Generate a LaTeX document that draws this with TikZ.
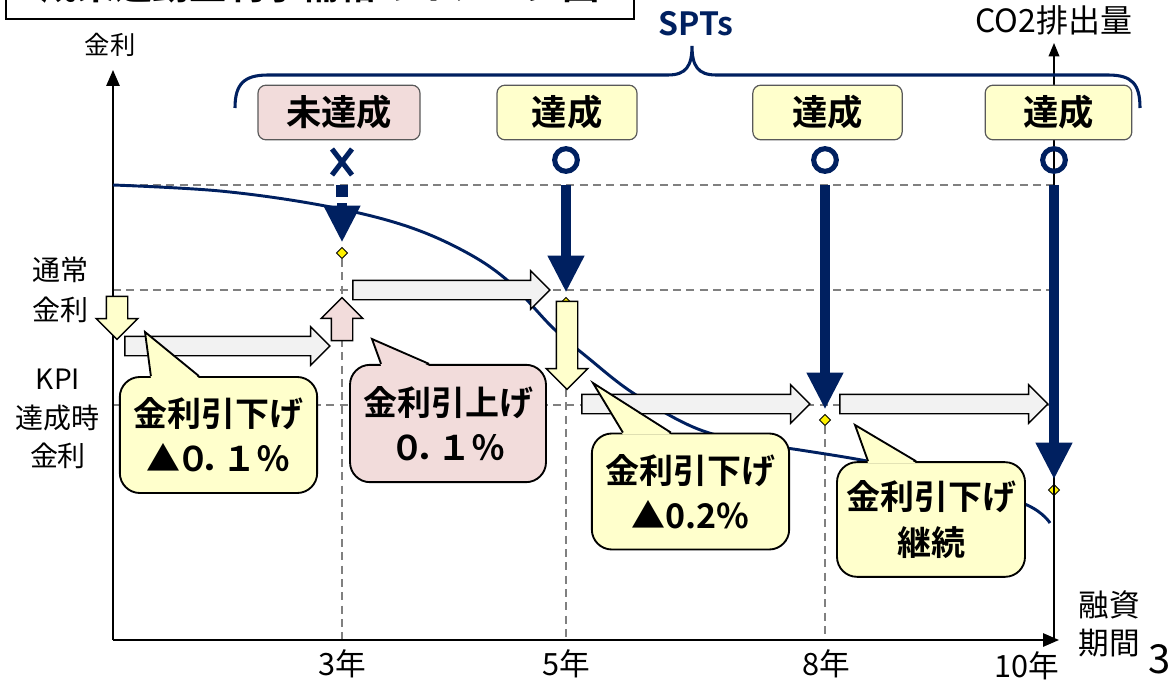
\documentclass[tikz,border=0pt]{standalone}
\usepackage{fontspec}
\setmainfont{Noto Sans CJK JP}[BoldFont={* Bold}]
\usetikzlibrary{shapes.geometric,shapes.arrows,arrows.meta,positioning}

\definecolor{navy}{HTML}{002060}
\definecolor{lemon}{HTML}{FFFFCC}
\definecolor{rose}{HTML}{F2DCDB}
\definecolor{pale}{HTML}{F2F2F2}
\definecolor{guidegray}{HTML}{808080}

\begin{document}
\begin{tikzpicture}[
    x=0.75pt, y=-0.75pt,
    guide/.style={draw=guidegray, line width=1.3pt, dash pattern=on 6pt off 4pt},
    axisline/.style={-{Triangle[width=10pt,length=12pt]}, line width=1.4pt},
    statbox/.style={rectangle, draw=black!65, line width=0.9pt, rounded corners=6pt, minimum height=41pt, font=\fontsize{26.5pt}{30pt}\selectfont\bfseries},
    bubble/.style={rectangle, draw, line width=1.4pt, rounded corners=15pt, align=center, minimum width=148pt, minimum height=87pt, font=\fontsize{25.5pt}{34pt}\selectfont\bfseries},
    ptr/.style={line width=1.4pt, line join=miter},
    sptarrow/.style={draw=navy, line width=7.5pt, -{Triangle[width=28pt,length=27pt,line width=0pt]}, shorten >=4pt},
    okmark/.style={circle, draw=navy, line width=3.8pt, minimum size=17pt, inner sep=0pt},
    dot/.style={diamond, draw, fill=yellow, line width=0.6pt, minimum size=8.5pt, inner sep=0pt},
    blockarrow/.style={single arrow, draw, line width=1.1pt, inner xsep=0pt, inner ysep=6.75pt, single arrow head extend=7.1pt},
    uparrow/.style={blockarrow, inner ysep=7.5pt, single arrow head extend=7.5pt},
    lbl/.style={font=\fontsize{23pt}{28pt}\selectfont, align=center}
]
\useasboundingbox (0,0) rectangle (1171,681);

% Title (cut off at the top)
\node[draw, line width=1.5pt, minimum width=471pt, minimum height=50pt, anchor=south west,
      font=\fontsize{28pt}{30pt}\selectfont\bfseries] (title) at (5,20) {成果連動型利子補給のイメージ図};

% Axes and guide lines
\coordinate (o) at (113,640);
\coordinate (ytop) at (113,70);
\coordinate (xend) at (1059,640);
\coordinate (ctop) at (1054,43);

\draw[guide] (113,185) -- (1054,185);
\draw[guide] (113,290) -- (1054,290);
\draw[guide] (113,405) -- (1054,405);

\node[dot] (d3) at (342,253) {};
\node[dot] (d5) at (566,303) {};
\node[dot] (d8) at (825,420) {};
\node[dot] (d10) at (1054,490) {};

\draw[guide] (d3.south) -- (d3 |- o);
\draw[guide] (d5.south) -- (d5 |- o);
\draw[guide] (d8.south) -- (d8 |- o);

\draw[axisline] (o) -- (ytop);
\draw[axisline] (o) -- (xend);
\draw[-{Triangle[width=8pt,length=10pt]}, line width=1pt] (d10 |- o) -- (ctop);

% CO2 curve
\draw[navy, line width=2.2pt] plot[smooth, tension=0.6] coordinates {
    (113,185) (220,191) (320,205) (400,224) (460,249) (507,280) (553,328)
    (587,357) (633,393) (693,427) (747,442) (800,450) (867,461) (950,478)
    (1027,505) (1050,523)};

% SPTs brace
\draw[navy, line width=2.3pt] (235,108) .. controls (235,84) and (244,75) .. (268,75)
    -- (668,75) .. controls (686,75) and (692,66) .. (692,46)
    .. controls (692,66) and (698,75) .. (716,75)
    -- (1108,75) .. controls (1132,75) and (1140,84) .. (1140,108);
\node[font=\fontsize{24pt}{26pt}\selectfont\bfseries, text=navy] (spts) at (696,24) {SPTs};

% Judgement boxes
\node[statbox, fill=rose, minimum width=121.5pt] (ng) at (339,112.5) {未達成};
\node[statbox, fill=lemon, minimum width=105pt] (okA) at (567,112.5) {達成};
\node[statbox, fill=lemon, minimum width=112pt] (okB) at (827.5,112.5) {達成};
\node[statbox, fill=lemon, minimum width=110pt] (okC) at (1058.5,112.5) {達成};

\draw[navy, line width=3.8pt] (332,149) -- (352,175) (352,149) -- (332,175);
\node[okmark] (oA) at (566,160) {};
\node[okmark] (oB) at (825,160) {};
\node[okmark] (oC) at (1054,160) {};

% Navy arrows
\coordinate (s5) at (566,185);
\coordinate (s8) at (825,185);
\coordinate (s10) at (1054,185);
\node[fill=navy, minimum size=9pt, inner sep=0pt] (sq3) at (342,191) {};
\draw[sptarrow] ([yshift=-4.5pt]sq3.south) -- (d3.north);
\draw[sptarrow] (s5) -- (d5.north);
\draw[sptarrow] (s8) -- (d8.north);
\draw[sptarrow] (s10) -- (d10.north);

% Block arrows
\node[blockarrow, fill=pale, minimum height=153.75pt] (ga1) at (222.5,346) {};
\node[blockarrow, fill=pale, minimum height=147.75pt] (ga2) at (446.5,290) {};
\node[blockarrow, fill=pale, minimum height=171pt] (ga3) at (691,404) {};
\node[blockarrow, fill=pale, minimum height=156pt] (ga4) at (939,404) {};
\node[uparrow, fill=lemon, rotate=-90, minimum height=32.25pt] (ya1) at (117,312.5) {};
\node[uparrow, fill=rose, rotate=90, minimum height=32.25pt] (pa1) at (342,324.5) {};
\node[uparrow, fill=lemon, rotate=-90, minimum height=66pt] (ya2) at (567,340) {};

% Callouts
\node[bubble, fill=lemon] (cA) at (218.5,435) {金利引下げ\\▲\kern-3pt０\kern-7pt．\kern-9pt１％};
\node[bubble, fill=rose, minimum width=147pt, minimum height=88pt] (cB) at (448,423.5) {金利引上げ\\０\kern-7pt．\kern-9pt１％};
\node[bubble, fill=lemon] (cC) at (690.5,491.5) {金利引下げ\\▲0.2\%};
\node[bubble, fill=lemon, minimum width=141pt, minimum height=86pt] (cD) at (931,519.5) {金利引下げ\\継続};

\coordinate (tA) at (145,332);
\coordinate (tB) at (372,339);
\coordinate (tC) at (593,383);
\coordinate (tD) at (855,425);

\fill[lemon] ([xshift=24pt,yshift=-1.5pt]cA.north west) -- (tA) -- ([xshift=60pt,yshift=-1.5pt]cA.north west) -- cycle;
\draw[ptr] ([xshift=24pt]cA.north west) -- (tA) -- ([xshift=60pt]cA.north west);
\fill[rose] ([xshift=24pt,yshift=-1.5pt]cB.north west) -- (tB) -- ([xshift=60pt,yshift=-1.5pt]cB.north west) -- cycle;
\draw[ptr] ([xshift=24pt]cB.north west) -- (tB) -- ([xshift=60pt]cB.north west);
\fill[lemon] ([xshift=24pt,yshift=-1.5pt]cC.north west) -- (tC) -- ([xshift=60pt,yshift=-1.5pt]cC.north west) -- cycle;
\draw[ptr] ([xshift=24pt]cC.north west) -- (tC) -- ([xshift=60pt]cC.north west);
\fill[lemon] ([xshift=24pt,yshift=-1.5pt]cD.north west) -- (tD) -- ([xshift=60pt,yshift=-1.5pt]cD.north west) -- cycle;
\draw[ptr] ([xshift=24pt]cD.north west) -- (tD) -- ([xshift=60pt]cD.north west);

% Axis labels
\node[lbl, font=\fontsize{19pt}{26pt}\selectfont] (ylab) at (110,45) {金利};
\node[lbl, font=\fontsize{21pt}{30pt}\selectfont] (normal) at (60,290) {通常\\金利};
\node[lbl, font=\fontsize{21pt}{29pt}\selectfont] (kpi) at (58,419) {KPI\\達成時\\金利};
\node[lbl] (y3) at (342,664) {3年};
\node[lbl] (y5) at (566,664) {5年};
\node[lbl] (y8) at (826,664) {8年};
\node[lbl] (y10) at (1027,666) {10年};
\node[lbl] (term) at (1109,624) {融資\\期間};
\node[lbl, font=\fontsize{24pt}{28pt}\selectfont] (co2) at (1054,20) {CO2排出量};
\node[lbl, font=\fontsize{30pt}{34pt}\selectfont, anchor=west, inner sep=0pt] (page) at (1148,659) {3};

\end{tikzpicture}
\end{document}
